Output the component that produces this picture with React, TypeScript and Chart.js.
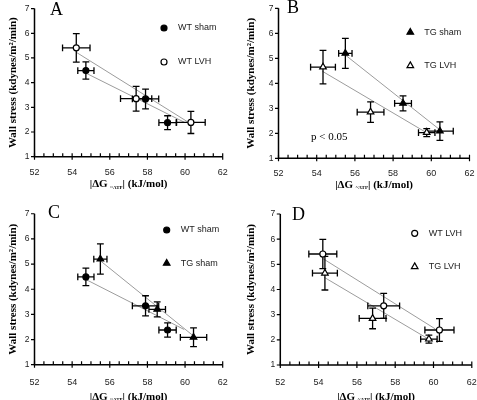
import React, { useEffect, useRef } from 'react';
import { Chart, registerables } from 'chart.js';

Chart.register(...registerables);

// ---------- data ----------
const xTickValues = [52, 54, 56, 58, 60, 62];
const yTickValues = [1, 2, 3, 4, 5, 6, 7];
const xMinorStep = 0.5;

const wtShamX = [54.73, 57.9, 59.07];
const wtShamY = [4.49, 3.34, 2.38];
const wtShamXErr = [0.43, 0.7, 0.46];
const wtShamYErr = [0.35, 0.4, 0.28];

const wtLvhX = [54.22, 57.4, 60.31];
const wtLvhY = [5.41, 3.35, 2.39];
const wtLvhXErr = [0.73, 0.83, 0.76];
const wtLvhYErr = [0.58, 0.5, 0.45];

const tgShamX = [55.5, 58.52, 60.45];
const tgShamY = [5.2, 3.2, 2.09];
const tgShamXErr = [0.35, 0.44, 0.7];
const tgShamYErr = [0.6, 0.3, 0.37];

const tgLvhX = [54.33, 56.82, 59.76];
const tgLvhY = [4.65, 2.85, 2.03];
const tgLvhXErr = [0.65, 0.7, 0.43];
const tgLvhYErr = [0.67, 0.41, 0.16];

// regression line end points
const wtShamFitX = [54.75, 59.95];
const wtShamFitY = [4.38, 2.4];
const wtLvhFitX = [54.22, 60.1];
const wtLvhFitY = [5.23, 2.43];
const tgShamFitX = [55.5, 60.4];
const tgShamFitY = [5.13, 2.17];
const tgLvhFitX = [54.3, 59.65];
const tgLvhFitY = [4.48, 2.07];

const yTitle = 'Wall stress (kdynes/m²/min)';
const xTitleMain = '|ΔG ';
const xTitleSub = '~ATP';
const xTitleEnd = '| (kJ/mol)';
const noteText = 'p < 0.05';

// ---------- styling ----------
const SANS = "'Liberation Sans', Arial, sans-serif";
const SERIF = "'Liberation Serif', 'Times New Roman', serif";

type Group = {
  label: string; xs: number[]; ys: number[]; xe: number[]; ye: number[];
  fx: number[]; fy: number[]; shape: 'circle' | 'triangle'; filled: boolean;
};

const groups: Record<string, Group> = {
  wtSham: { label: 'WT sham', xs: wtShamX, ys: wtShamY, xe: wtShamXErr, ye: wtShamYErr, fx: wtShamFitX, fy: wtShamFitY, shape: 'circle', filled: true },
  wtLvh: { label: 'WT LVH', xs: wtLvhX, ys: wtLvhY, xe: wtLvhXErr, ye: wtLvhYErr, fx: wtLvhFitX, fy: wtLvhFitY, shape: 'circle', filled: false },
  tgSham: { label: 'TG sham', xs: tgShamX, ys: tgShamY, xe: tgShamXErr, ye: tgShamYErr, fx: tgShamFitX, fy: tgShamFitY, shape: 'triangle', filled: true },
  tgLvh: { label: 'TG LVH', xs: tgLvhX, ys: tgLvhY, xe: tgLvhXErr, ye: tgLvhYErr, fx: tgLvhFitX, fy: tgLvhFitY, shape: 'triangle', filled: false },
};

const panels = [
  { letter: 'A', left: 0, top: 0, w: 238, h: 200, area: { l: 34.5, r: 222.7, t: 8.6, b: 156.7 },
    groups: ['wtSham', 'wtLvh'], legend: { x: 164, y: 28, dy: 34 }, letterPos: { x: 50, y: 15 },
    xLabelY: 172.8, xTitleY: 184.5, note: false },
  { letter: 'B', left: 238, top: 0, w: 239, h: 200, area: { l: 40.5, r: 231.5, t: 8.3, b: 158.3 },
    groups: ['tgSham', 'tgLvh'], legend: { x: 172.3, y: 32.3, dy: 33.4 }, letterPos: { x: 49, y: 13 },
    xLabelY: 173.3, xTitleY: 185, note: true },
  { letter: 'C', left: 0, top: 200, w: 238, h: 200, area: { l: 34.5, r: 222.7, t: 13.75, b: 164.7 },
    groups: ['wtSham', 'tgSham'], legend: { x: 166.7, y: 30, dy: 33.3 }, letterPos: { x: 48, y: 17.5 },
    xLabelY: 182.7, xTitleY: 197, note: false },
  { letter: 'D', left: 238, top: 200, w: 239, h: 200, area: { l: 42.3, r: 233.8, t: 14, b: 165 },
    groups: ['wtLvh', 'tgLvh'], legend: { x: 176.7, y: 33.3, dy: 33.4 }, letterPos: { x: 54, y: 19.5 },
    xLabelY: 182.7, xTitleY: 197, note: false },
];

const MARKER_R = { circle: 3, triangle: 3.8 };

function drawMarker(ctx: CanvasRenderingContext2D, shape: string, filled: boolean, x: number, y: number) {
  const r = shape === 'circle' ? MARKER_R.circle : MARKER_R.triangle;
  ctx.save();
  ctx.beginPath();
  if (shape === 'circle') {
    ctx.arc(x, y, r, 0, Math.PI * 2);
  } else {
    let rad = 0;
    ctx.moveTo(x + Math.sin(rad) * r, y - Math.cos(rad) * r);
    rad += (2 * Math.PI) / 3;
    ctx.lineTo(x + Math.sin(rad) * r, y - Math.cos(rad) * r);
    rad += (2 * Math.PI) / 3;
    ctx.lineTo(x + Math.sin(rad) * r, y - Math.cos(rad) * r);
    ctx.closePath();
  }
  ctx.fillStyle = filled ? '#000' : '#fff';
  ctx.fill();
  ctx.lineWidth = 1.2;
  ctx.strokeStyle = '#000';
  ctx.stroke();
  ctx.restore();
}

function Panel({ cfg }: { cfg: any }) {
  const ref = useRef<HTMLCanvasElement>(null);

  useEffect(() => {
    const canvas = ref.current!;
    const a = cfg.area;
    const gs: Group[] = cfg.groups.map((k: string) => groups[k]);

    const pointSets = gs.map((g) => ({
      label: g.label,
      data: g.xs.map((x, i) => ({ x, y: g.ys[i], xErr: g.xe[i], yErr: g.ye[i] })),
      pointStyle: g.shape,
      pointRadius: g.shape === 'circle' ? MARKER_R.circle : MARKER_R.triangle,
      pointBackgroundColor: g.filled ? '#000' : '#fff',
      pointBorderColor: '#000',
      pointBorderWidth: 1.2,
      showLine: false,
    }));
    const fitSets = gs.map((g) => ({
      label: g.label + ' fit',
      data: g.fx.map((x, i) => ({ x, y: g.fy[i] })),
      showLine: true,
      borderColor: '#9c9c9c',
      borderWidth: 1,
      pointRadius: 0,
      fill: false,
    }));

    const nPts = pointSets.length;

    const panelPlugin = {
      id: 'panelDecor',
      beforeDatasetDraw(chart: any, args: any) {
        if (args.index !== nPts - 1) return;
        const ctx = chart.ctx as CanvasRenderingContext2D;
        const xs = chart.scales.x;
        const ys = chart.scales.y;
        const cap = 3.4;
        ctx.save();
        ctx.strokeStyle = '#000';
        ctx.lineWidth = 1.3;
        for (let d = 0; d < nPts; d++) {
          const ds = chart.data.datasets[d];
          ds.data.forEach((p: any) => {
            const px = xs.getPixelForValue(p.x);
            const py = ys.getPixelForValue(p.y);
            const x0 = xs.getPixelForValue(p.x - p.xErr);
            const x1 = xs.getPixelForValue(p.x + p.xErr);
            const y0 = ys.getPixelForValue(p.y + p.yErr);
            const y1 = ys.getPixelForValue(p.y - p.yErr);
            ctx.beginPath();
            ctx.moveTo(x0, py); ctx.lineTo(x1, py);
            ctx.moveTo(x0, py - cap); ctx.lineTo(x0, py + cap);
            ctx.moveTo(x1, py - cap); ctx.lineTo(x1, py + cap);
            ctx.moveTo(px, y0); ctx.lineTo(px, y1);
            ctx.moveTo(px - cap, y0); ctx.lineTo(px + cap, y0);
            ctx.moveTo(px - cap, y1); ctx.lineTo(px + cap, y1);
            ctx.stroke();
          });
        }
        ctx.restore();
      },
      afterDraw(chart: any) {
        const ctx = chart.ctx as CanvasRenderingContext2D;
        const xs = chart.scales.x;
        const ys = chart.scales.y;
        const area = chart.chartArea;
        ctx.save();
        // axes
        ctx.strokeStyle = '#000';
        ctx.lineWidth = 1.5;
        ctx.beginPath();
        ctx.moveTo(area.left, area.top);
        ctx.lineTo(area.left, area.bottom);
        ctx.lineTo(area.right, area.bottom);
        ctx.stroke();
        ctx.lineWidth = 1.2;
        ctx.beginPath();
        for (let v = xs.min; v <= xs.max + 1e-9; v += xMinorStep) {
          const px = xs.getPixelForValue(v);
          const major = xTickValues.some((t) => Math.abs(t - v) < 1e-6);
          ctx.moveTo(px, area.bottom - 3.5);
          ctx.lineTo(px, area.bottom + (major ? 3 : 0));
        }
        yTickValues.forEach((v) => {
          const py = ys.getPixelForValue(v);
          ctx.moveTo(area.left - 3.5, py);
          ctx.lineTo(area.left, py);
        });
        ctx.stroke();

        // x title with subscript
        const cx = (area.left + area.right) / 2;
        const cy = cfg.xTitleY;
        const mainFont = `bold 11px ${SERIF}`;
        const subFont = `bold 5px ${SERIF}`;
        ctx.font = mainFont;
        const w1 = ctx.measureText(xTitleMain).width;
        const w3 = ctx.measureText(xTitleEnd).width;
        ctx.font = subFont;
        const w2 = ctx.measureText(xTitleSub).width;
        let sx = cx - (w1 + w2 + w3) / 2;
        ctx.fillStyle = '#000';
        ctx.textBaseline = 'middle';
        ctx.textAlign = 'left';
        ctx.font = mainFont;
        ctx.fillText(xTitleMain, sx, cy);
        sx += w1;
        ctx.font = subFont;
        ctx.fillText(xTitleSub, sx, cy + 3);
        sx += w2;
        ctx.font = mainFont;
        ctx.fillText(xTitleEnd, sx, cy);

        // panel letter
        ctx.font = `18px ${SERIF}`;
        ctx.textBaseline = 'alphabetic';
        ctx.fillText(cfg.letter, cfg.letterPos.x, cfg.letterPos.y);

        // legend
        gs.forEach((g, i) => {
          const ly = cfg.legend.y + i * cfg.legend.dy;
          drawMarker(ctx, g.shape, g.filled, cfg.legend.x, ly);
          ctx.font = `9px ${SANS}`;
          ctx.fillStyle = '#222';
          ctx.textBaseline = 'middle';
          ctx.textAlign = 'left';
          ctx.fillText(g.label, cfg.legend.x + 14, ly);
        });

        if (cfg.note) {
          ctx.font = `11px ${SERIF}`;
          ctx.fillStyle = '#000';
          ctx.textBaseline = 'middle';
          ctx.fillText(noteText, 73, 137.3);
        }
        ctx.restore();
      },
    };

    const chart = new Chart(canvas, {
      type: 'scatter',
      data: { datasets: [...pointSets, ...fitSets] as any },
      options: {
        responsive: false,
        animation: false,
        devicePixelRatio: 1,
        events: [],
        layout: { padding: { left: 0, top: a.t, right: cfg.w - a.r, bottom: 0 } },
        plugins: { legend: { display: false }, tooltip: { enabled: false } },
        scales: {
          x: {
            type: 'linear',
            position: 'bottom',
            min: 52,
            max: 62,
            afterBuildTicks: (s: any) => { s.ticks = xTickValues.map((v) => ({ value: v })); },
            afterFit: (s: any) => { s.height = cfg.h - a.b; s.paddingLeft = 0; s.paddingRight = 0; },
            grid: { display: false, drawTicks: false },
            border: { display: false },
            ticks: {
              padding: cfg.xLabelY - a.b - 5.4,
              font: { family: SANS, size: 9 },
              color: '#222',
              maxRotation: 0,
              autoSkip: false,
            },
          },
          y: {
            type: 'linear',
            position: 'left',
            min: 1,
            max: 7,
            afterBuildTicks: (s: any) => { s.ticks = yTickValues.map((v) => ({ value: v })); },
            afterFit: (s: any) => { s.width = a.l; s.paddingTop = 0; s.paddingBottom = 0; },
            grid: { display: false, drawTicks: false },
            border: { display: false },
            ticks: { padding: 5, font: { family: SANS, size: 8.5 }, color: '#222', autoSkip: false },
            title: {
              display: true,
              text: yTitle,
              color: '#000',
              font: { family: SERIF, size: 11, weight: 'bold' },
              padding: { top: 6.4, bottom: 0 },
            },
          },
        },
      } as any,
      plugins: [panelPlugin],
    });
    return () => chart.destroy();
  }, []);

  return (
    <canvas
      ref={ref}
      width={cfg.w}
      height={cfg.h}
      style={{ position: 'absolute', left: cfg.left, top: cfg.top, width: cfg.w, height: cfg.h }}
    />
  );
}

export default function App() {
  return (
    <div style={{ position: 'fixed', left: 0, top: 0, width: 477, height: 400, background: '#fff' }}>
      {panels.map((p) => (
        <Panel key={p.letter} cfg={p} />
      ))}
    </div>
  );
}
